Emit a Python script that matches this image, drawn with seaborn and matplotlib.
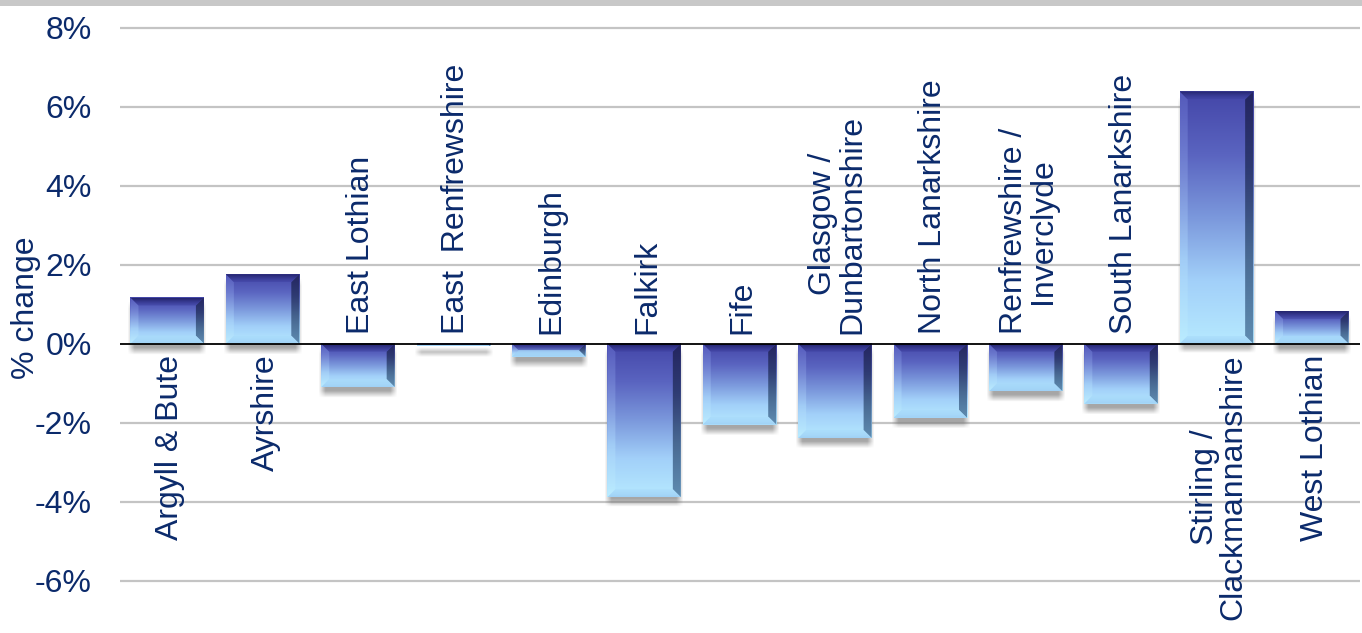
import numpy as np
import pandas as pd
import matplotlib
matplotlib.use("Agg")
import matplotlib.pyplot as plt
import seaborn as sns
from matplotlib.colors import LinearSegmentedColormap, to_rgb
from matplotlib.patches import Polygon, Rectangle

# ---------------- data ----------------
regions = ["Argyll & Bute", "Ayrshire", "East Lothian", "East  Renfrewshire",
           "Edinburgh", "Falkirk", "Fife", "Glasgow /\nDunbartonshire",
           "North Lanarkshire", "Renfrewshire /\nInverclyde", "South Lanarkshire",
           "Stirling /\nClackmannanshire", "West Lothian"]
pct_change = [1.17, 1.76, -1.10, -0.07, -0.33, -3.89, -2.05, -2.39,
              -1.88, -1.21, -1.52, 6.39, 0.83]
ytick_values = [-6, -4, -2, 0, 2, 4, 6, 8]
ytick_labels = ["-6%", "-4%", "-2%", "0%", "2%", "4%", "6%", "8%"]
y_label = "% change"

NAVY = "#0b2a6b"
W, H = 1362, 633

sns.set_theme(style="white")
plt.rcParams["font.family"] = ["Liberation Sans", "DejaVu Sans"]

fig = plt.figure(figsize=(W / 100, H / 100), dpi=100)
fig.patch.set_facecolor("white")
ax_left, ax_top, ax_w = 119.5, 6, 1240
ax = fig.add_axes([ax_left / W, 0, ax_w / W, (H - ax_top) / H])

df = pd.DataFrame({"region": regions, "change": pct_change})
sns.barplot(data=df, x="region", y="change", ax=ax, width=0.77,
            color="#7b96dc", saturation=1, zorder=3)

YMIN, YMAX = -7.33, 8.556
ax.set_xlim(-0.5, len(regions) - 0.5)
ax.set_ylim(YMIN, YMAX)

px_x = ax_w / len(regions)                # pixels per category unit
px_y = (H - ax_top) / (YMAX - YMIN)       # pixels per percent

face_cmap = LinearSegmentedColormap.from_list(
    "face", ["#4446a8", "#5a64c0", "#7b98dc", "#a2d0f9", "#b6e9ff"])
right_cmap = LinearSegmentedColormap.from_list(
    "right", ["#22235c", "#2d3a70", "#46678f", "#5b87ad"])
left_cmap = LinearSegmentedColormap.from_list(
    "left", ["#5c62c4", "#7e92dc", "#a8d4fa", "#bdeeff"])


def clip_poly(ax, verts):
    poly = Polygon(verts, closed=True, transform=ax.transData,
                   facecolor="none", edgecolor="none")
    ax.add_patch(poly)
    return poly


def vgrad(ax, cmap, extent, verts, zorder, alpha=1.0):
    g = np.linspace(0, 1, 256).reshape(-1, 1)
    im = ax.imshow(g, cmap=cmap, extent=extent, aspect="auto",
                   origin="upper", zorder=zorder, alpha=alpha,
                   interpolation="bilinear")
    if verts is not None:
        im.set_clip_path(clip_poly(ax, verts))
    return im


def rgba_vgrad(ax, c_top, a_top, c_bot, a_bot, extent, verts, zorder):
    n = 64
    t = np.linspace(0, 1, n).reshape(-1, 1)
    ct, cb = np.array(to_rgb(c_top)), np.array(to_rgb(c_bot))
    img = np.zeros((n, 1, 4))
    img[..., :3] = (ct * (1 - t) + cb * t)[:, None, :].reshape(n, 1, 3)
    img[..., 3] = (a_top * (1 - t) + a_bot * t)
    im = ax.imshow(img, extent=extent, aspect="auto", origin="upper",
                   zorder=zorder, interpolation="bilinear")
    im.set_clip_path(clip_poly(ax, verts))
    return im


for p in list(ax.patches):
    x0 = p.get_x()
    w = p.get_width()
    x1 = x0 + w
    y0 = p.get_y()
    h = p.get_height()
    yb, yt = min(y0, y0 + h), max(y0, y0 + h)
    p.set_facecolor("none")
    p.set_edgecolor("none")

    # soft drop shadow (below the bar)
    sx0, sx1 = x0 - 3 / px_x, x1 + 3 / px_x
    sy0, sy1 = yb - 11 / px_y, yt - 4 / px_y
    nx, ny = 60, 60
    xs = np.linspace(0, 1, nx)
    ys = np.linspace(0, 1, ny)
    ex = np.clip(np.minimum(xs, 1 - xs) * (sx1 - sx0) * px_x / 7, 0, 1)
    ey = np.clip(np.minimum(ys, 1 - ys) * (sy1 - sy0) * px_y / 7, 0, 1)
    sh = np.zeros((ny, nx, 4))
    sh[..., :3] = 0.42
    sh[..., 3] = np.outer(ey, ex) * 0.6
    ax.imshow(sh, extent=[sx0, sx1, sy0, sy1], aspect="auto", origin="lower",
              zorder=2.5, interpolation="bilinear")

    # main face gradient
    vgrad(ax, face_cmap, [x0, x1, yb, yt], None, 3)

    hp = (yt - yb) * px_y
    wp = w * px_x
    b = min(8.0, hp / 2.0, wp / 2.0)
    bx = b / px_x
    by = b / px_y

    # left bevel (slightly lighter)
    vgrad(ax, left_cmap, [x0, x1, yb, yt],
          [(x0, yb), (x0 + bx, yb + by), (x0 + bx, yt - by), (x0, yt)], 3.1,
          alpha=0.7)
    # right bevel (dark)
    vgrad(ax, right_cmap, [x0, x1, yb, yt],
          [(x1, yb), (x1 - bx, yb + by), (x1 - bx, yt - by), (x1, yt)], 3.1,
          alpha=0.95)
    # top bevel: dark navy fading inwards
    rgba_vgrad(ax, "#23246c", 1.0, "#3a3c9c", 0.35, [x0, x1, yt - by, yt],
               [(x0, yt), (x1, yt), (x1 - bx, yt - by), (x0 + bx, yt - by)], 3.2)
    # bottom bevel: light blue
    rgba_vgrad(ax, "#a9dcfb", 0.6, "#9fd0f6", 0.95, [x0, x1, yb, yb + by],
               [(x0, yb), (x1, yb), (x1 - bx, yb + by), (x0 + bx, yb + by)], 3.2)

ax.set_xlim(-0.5, len(regions) - 0.5)
ax.set_ylim(YMIN, YMAX)

# grid and zero line
for t in ytick_values:
    if t == 0:
        ax.axhline(0, color="black", lw=1.3, zorder=4)
    else:
        ax.axhline(t, color="#c4c4c4", lw=1.6, zorder=1)

# category labels on the opposite side of the zero line
for i, (lab, v) in enumerate(zip(regions, pct_change)):
    if v >= 0:
        ax.text(i + 0.03, -0.28, lab, rotation=90, ha="center", va="top",
                multialignment="center", fontsize=23, color=NAVY,
                linespacing=0.95, zorder=5)
    else:
        ax.text(i + 0.03, 0.25, lab, rotation=90, ha="center", va="bottom",
                multialignment="center", fontsize=23, color=NAVY,
                linespacing=0.95, zorder=5)

ax.set_xticks([])
ax.set_xlabel("")
ax.set_yticks(ytick_values)
ax.set_yticklabels(ytick_labels, fontsize=23, color=NAVY)
ax.tick_params(axis="y", length=0, pad=20)
ax.set_ylabel(y_label, fontsize=23, color=NAVY)
ax.yaxis.set_label_coords(-0.063, 0.518)
for s in ax.spines.values():
    s.set_visible(False)

# grey band along the top edge
fig.patches.append(Rectangle((0, (H - 6) / H), 1, 6 / H, transform=fig.transFigure,
                             facecolor="#c8c8c8", edgecolor="none", zorder=10))

fig.savefig("out.png", dpi=100)
